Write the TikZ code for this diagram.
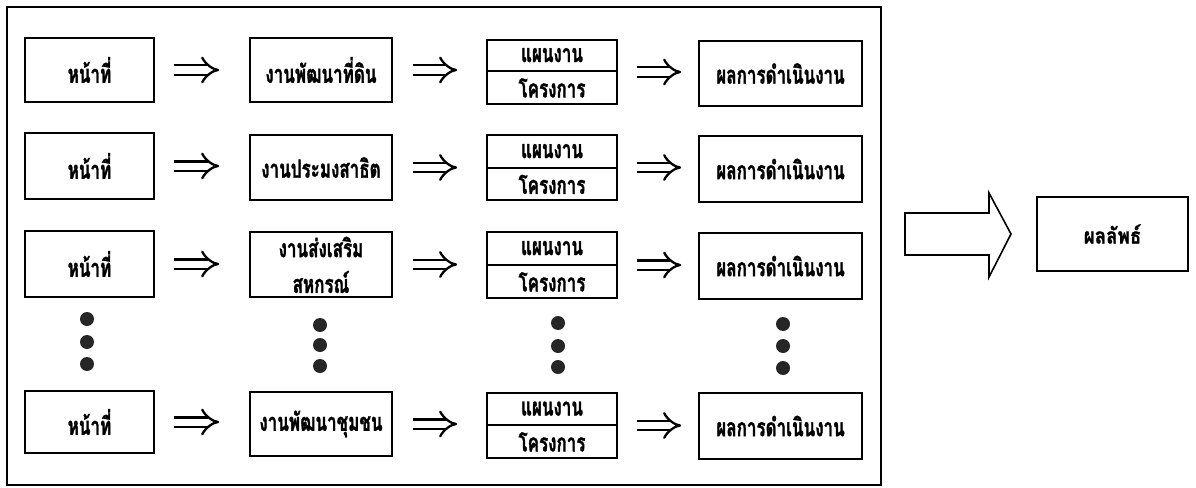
\documentclass[tikz,border=0pt]{standalone}
\usepackage{fontspec}
\setmainfont[Script=Thai, FakeStretch=0.68, BoldFeatures={FakeBold=1.2}]{Loma}
\newfontfamily\resfont[Script=Thai, FakeStretch=0.85, BoldFeatures={FakeBold=1.0}]{Loma}
\usetikzlibrary{arrows.meta,calc}
\tikzset{
  txt/.style={font=\fontsize{25}{27}\selectfont\bfseries},
  box/.style={draw, line width=1.6pt, rectangle, inner sep=0pt, txt},
  lbl/.style={inner sep=0pt, txt},
  dbl/.style={draw, double, double distance=7pt, line width=2.3pt, -{Implies[length=8pt]}},
  dot/.style={circle, fill=black!85, inner sep=0pt, minimum size=14pt},
}
\begin{document}
\begin{tikzpicture}[x=1pt,y=-1pt]
\useasboundingbox (0,0) rectangle (1196,487);
\draw[line width=1.6pt] (7,7) rectangle (881,485);

% row 1
\node[box, minimum width=129, minimum height=64] (a1) at (89.5,70) {หน้าที่};
\node[box, minimum width=142, minimum height=64] (b1) at (321,70) {งานพัฒนาที่ดิน};
\node[box, minimum width=130, minimum height=64] (c1) at (552,72) {};
\node[box, minimum width=163, minimum height=65] (d1) at (780.5,73.5) {ผลการดำเนินงาน};
% row 2
\node[box, minimum width=129, minimum height=66] (a2) at (89.5,166) {หน้าที่};
\node[box, minimum width=142, minimum height=65] (b2) at (321,167.5) {งานประมงสาธิต};
\node[box, minimum width=130, minimum height=65] (c2) at (552,167.5) {};
\node[box, minimum width=163, minimum height=66] (d2) at (780.5,169) {ผลการดำเนินงาน};
% row 3
\node[box, minimum width=129, minimum height=66] (a3) at (89.5,264) {หน้าที่};
\node[box, minimum width=142, minimum height=65] (b3) at (321,264.5) {};
\node[lbl] (b3u) at (321,247) {งานส่งเสริม};
\node[lbl] (b3l) at (321,282) {สหกรณ์};
\node[box, minimum width=130, minimum height=66] (c3) at (552,265) {};
\node[box, minimum width=163, minimum height=66] (d3) at (780.5,266) {ผลการดำเนินงาน};
% row 4
\node[box, minimum width=129, minimum height=62] (a4) at (89.5,422) {หน้าที่};
\node[box, minimum width=142, minimum height=64] (b4) at (321,424) {งานพัฒนาชุมชน};
\node[box, minimum width=130, minimum height=65] (c4) at (552,425.5) {};
\node[box, minimum width=163, minimum height=66] (d4) at (780.5,426) {ผลการดำเนินงาน};

% split boxes
\foreach \r/\dy in {1/71,2/168,3/265,4/425}{
  \draw[line width=1.6pt] (c\r.west |- 0,\dy) -- (c\r.east |- 0,\dy);
  \node[lbl] (cu\r) at ($(c\r.north)!0.5!(c\r.north |- 0,\dy)$) {แผนงาน};
  \node[lbl] (cl\r) at ($(c\r.south)!0.5!(c\r.south |- 0,\dy)$) {โครงการ};
}

% arrows
\foreach \r in {1,2,3,4}{
  \draw[dbl] ([xshift=19pt]a\r.east) -- ([xshift=-30pt]b\r.west |- a\r.east);
  \draw[dbl] ([xshift=20pt]b\r.east) -- ([xshift=-29pt]c\r.west |- b\r.east);
  \draw[dbl] ([xshift=19pt]c\r.east) -- ([xshift=-17pt]d\r.west |- c\r.east);
}

% dots
\foreach \x/\ya/\yb/\yc/\n in {87/319/342/364/a, 320/325/345/366/b, 558/323/346/367/c, 783/324/346/368/d}{
  \node[dot] (\n p1) at (\x,\ya) {};
  \node[dot] (\n p2) at (\x,\yb) {};
  \node[dot] (\n p3) at (\x,\yc) {};
}

% big arrow and result
\draw[line width=1.6pt, line join=miter] (905,213) -- (989,213) -- (989,193) -- (1011,234) -- (989,277) -- (989,255) -- (905,255) -- cycle;
\node[box, line width=1.4pt, minimum width=151, minimum height=74, font=\resfont\fontsize{22}{24}\selectfont\bfseries] (res) at (1112.5,234) {ผลลัพธ์};
\end{tikzpicture}
\end{document}
